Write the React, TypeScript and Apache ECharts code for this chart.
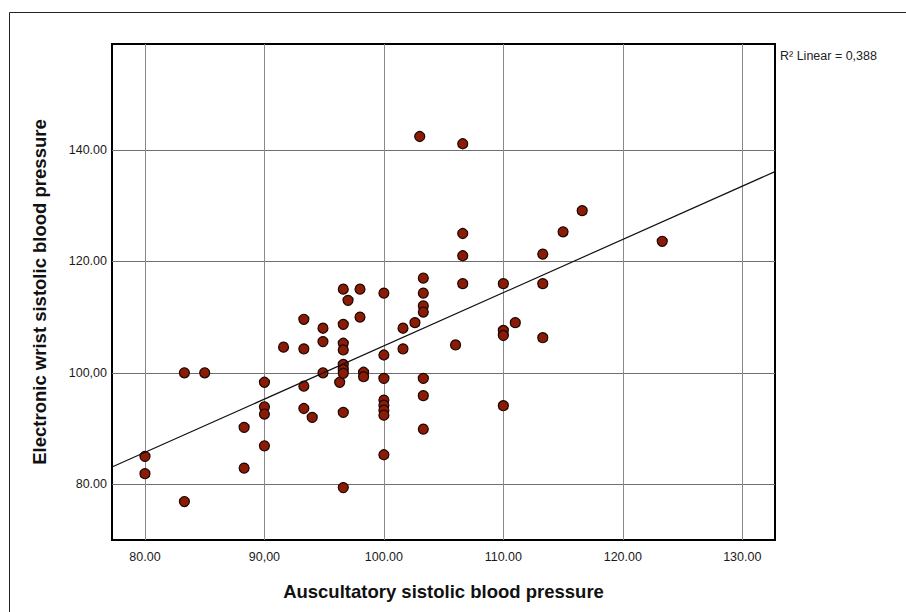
import React, { useEffect, useRef } from "react";
import * as echarts from "echarts";

// Auscultatory (x) vs electronic wrist (y) systolic blood pressure
const pointsX = [
  80, 80,
  83.3, 83.3,
  85,
  88.3, 88.3,
  90, 90, 90, 90,
  91.6,
  93.3, 93.3, 93.3, 93.3,
  94,
  94.9, 94.9, 94.9,
  96.3,
  96.6, 96.6, 96.6, 96.6, 96.6, 96.6, 96.6, 96.6, 96.6,
  97,
  98, 98,
  98.3, 98.3,
  100, 100, 100, 100, 100, 100, 100, 100,
  101.6, 101.6,
  102.6,
  103,
  103.3, 103.3, 103.3, 103.3, 103.3, 103.3, 103.3,
  106,
  106.6, 106.6, 106.6, 106.6,
  110, 110, 110, 110,
  111,
  113.3, 113.3, 113.3,
  115,
  116.6,
  123.3,
];
const pointsY = [
  85.0, 81.9,
  100, 76.9,
  100,
  90.2, 82.9,
  98.3, 93.9, 92.6, 86.9,
  104.6,
  109.6, 104.3, 97.6, 93.6,
  92.0,
  108.0, 105.6, 100,
  98.3,
  115, 108.7, 105.3, 104.1, 101.5, 100.6, 99.9, 92.9, 79.4,
  113,
  115, 110,
  100.1, 99.3,
  114.3, 103.2, 99.0, 95.1, 94.2, 93.3, 92.4, 85.3,
  108, 104.3,
  109,
  142.4,
  117, 114.3, 112, 110.9, 99, 95.9, 89.9,
  105,
  141.1, 125, 121, 116,
  116, 107.6, 106.7, 94.1,
  109,
  121.3, 116, 106.3,
  125.3,
  129.1,
  123.6,
];

// Fit line end points (read at the plot edges)
const fitX = [77.24, 132.74];
const fitY = [83.1, 136.1];

const xTicks = [80, 90, 100, 110, 120, 130];
const xTickLabels = ["80.00", "90,00", "100.00", "110.00", "120.00", "130.00"];
const yTicks = [80, 100, 120, 140];
const yTickLabels = ["80.00", "100,00", "120.00", "140.00"];

const xRange = [77.24, 132.74];
const yRange = [70, 159];

const xTitle = "Auscultatory sistolic blood pressure";
const yTitle = "Electronic wrist sistolic blood pressure";
const fitLabel = "R\u00b2 Linear = 0,388";

const FONT = "'Liberation Sans', Arial, sans-serif";

export default function App() {
  const ref = useRef<HTMLDivElement>(null);

  useEffect(() => {
    if (!ref.current) return;
    const chart = echarts.init(ref.current, null, { renderer: "svg" });
    const scatterData = pointsX.map((x, i) => [x, pointsY[i]]);
    const lineData = fitX.map((x, i) => [x, fitY[i]]);

    chart.setOption({
      animation: false,
      backgroundColor: "#ffffff",
      textStyle: { fontFamily: FONT },
      grid: {
        left: 112,
        top: 44,
        right: 131,
        bottom: 72,
        show: true,
        borderColor: "#000",
        borderWidth: 2,
        backgroundColor: "transparent",
      },
      xAxis: {
        type: "value",
        min: xRange[0],
        max: xRange[1],
        axisLine: { show: false },
        axisTick: { show: false, customValues: xTicks },
        axisLabel: {
          customValues: xTicks,
          margin: 10,
          fontSize: 12.5,
          color: "#1a1a1a",
          fontFamily: FONT,
          formatter: (v: number) => {
            const i = xTicks.findIndex((t) => Math.abs(t - v) < 1e-6);
            return i >= 0 ? xTickLabels[i] : "";
          },
        },
        splitLine: { show: true, lineStyle: { color: "#8a8a8a", width: 1 } },
        name: xTitle,
        nameLocation: "middle",
        nameGap: 42,
        nameTextStyle: { fontSize: 18.5, fontWeight: "bold", color: "#111", fontFamily: FONT },
      },
      yAxis: {
        type: "value",
        min: yRange[0],
        max: yRange[1],
        axisLine: { show: false },
        axisTick: { show: false, customValues: yTicks },
        axisLabel: {
          customValues: yTicks,
          margin: 5,
          fontSize: 12.5,
          color: "#1a1a1a",
          fontFamily: FONT,
          formatter: (v: number) => {
            const i = yTicks.findIndex((t) => Math.abs(t - v) < 1e-6);
            return i >= 0 ? yTickLabels[i] : "";
          },
        },
        splitLine: { show: true, lineStyle: { color: "#6f6f6f", width: 1 } },
        name: yTitle,
        nameLocation: "middle",
        nameGap: 63,
        nameTextStyle: { fontSize: 18.5, fontWeight: "bold", color: "#111", fontFamily: FONT },
      },
      graphic: [
        {
          type: "rect",
          shape: { x: 9.5, y: 12.5, width: 1000, height: 1000 },
          style: { fill: "none", stroke: "#222", lineWidth: 1 },
          silent: true,
          z: -1,
        },
        {
          type: "text",
          left: 780,
          top: 49,
          style: { text: fitLabel, fontSize: 12.5, fill: "#222", fontFamily: FONT },
        },
      ],
      series: [
        {
          type: "scatter",
          data: scatterData,
          symbolSize: 10,
          itemStyle: { color: "#8a1b06", borderColor: "#1c0600", borderWidth: 1.2, opacity: 1 },
          z: 2,
        },
        {
          type: "line",
          data: lineData,
          showSymbol: false,
          symbol: "none",
          lineStyle: { color: "#111", width: 1.2 },
          z: 3,
          silent: true,
        },
      ],
    });
    return () => chart.dispose();
  }, []);

  return (
    <div
      ref={ref}
      style={{ position: "fixed", left: 0, top: 0, width: 906, height: 612, background: "#fff" }}
    />
  );
}
